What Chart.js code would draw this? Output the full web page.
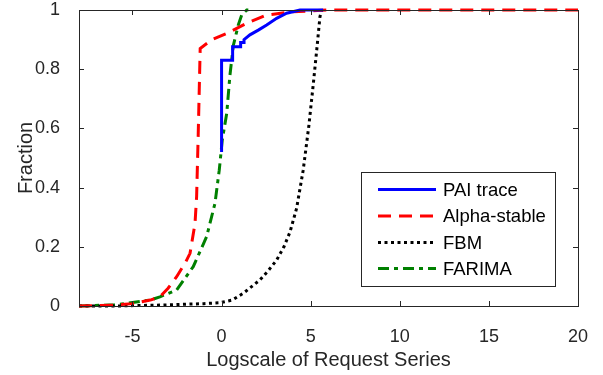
<!DOCTYPE html>
<html lang="en">
<head>
    <meta charset="UTF-8">
    <script src="https://cdn.jsdelivr.net/npm/chart.js"></script>
    <title>CDF</title>
    <style>
        html, body { margin: 0; padding: 0; background: #fff; }
        #box { width: 603px; height: 375px; }
    </style>
</head>
<body>
<div id="box"><canvas id="myChart" width="603" height="375"></canvas></div>

<script>
    // valores
    const paiX = [0, 0, 0.62, 0.62, 1.07, 1.07, 1.26, 1.26, 1.59, 2.06, 2.53, 3.09, 3.65, 4.4, 5.7];
    const paiY = [0.52, 0.83, 0.83, 0.876, 0.876, 0.89, 0.89, 0.90, 0.916, 0.932, 0.949, 0.972, 0.989, 1.0, 1.0];

    const alphaX = [-8, -6, -5, -4, -3.46, -3, -2.52, -2, -1.77, -1.49, -1.4, -1.31, -1.2, -0.56, 0.29, 1.41, 2.53, 4.0, 6.0, 20];
    const alphaY = [0, 0.003, 0.008, 0.02, 0.031, 0.06, 0.099, 0.15, 0.178, 0.279, 0.37, 0.58, 0.87, 0.899, 0.921, 0.955, 0.983, 0.994, 1.0, 1.0];

    const fbmX = [-8, -6, -3.46, -1, -0.09, 0.6, 1.22, 2.15, 2.6, 3.09, 3.5, 3.84, 4.21, 4.58, 4.9, 5.15, 5.34, 5.52, 5.62];
    const fbmY = [0, 0, 0.003, 0.008, 0.011, 0.02, 0.043, 0.088, 0.118, 0.155, 0.2, 0.25, 0.33, 0.459, 0.61, 0.752, 0.865, 0.977, 1.0];

    const farimaX = [-8, -6, -5.33, -4, -3.46, -2.52, -1.59, -0.84, -0.37, -0.13, 0.04, 0.29, 0.47, 0.66, 0.94, 1.13, 1.41, 1.76];
    const farimaY = [0, 0.004, 0.009, 0.02, 0.031, 0.054, 0.133, 0.234, 0.347, 0.459, 0.561, 0.651, 0.78, 0.88, 0.95, 0.983, 1.0, 1.0];

    const xTicks = [-5, 0, 5, 10, 15, 20];
    const yTicks = [0, 0.2, 0.4, 0.6, 0.8, 1];

    const fonte = '"Liberation Sans", Arial, Helvetica, sans-serif';
    const cinza = '#262626';

    function pontos(xs, ys) {
        return xs.map((x, i) => ({ x: x, y: ys[i] }));
    }

    // caixa com ticks para dentro (estilo matlab)
    const caixaPlugin = {
        id: 'caixa',
        afterDatasetsDraw(chart) {
            const ctx = chart.ctx;
            const a = chart.chartArea;
            const sx = chart.scales.x;
            const sy = chart.scales.y;
            ctx.save();
            ctx.strokeStyle = cinza;
            ctx.lineWidth = 1;
            ctx.beginPath();
            xTicks.forEach(v => {
                const px = Math.round(sx.getPixelForValue(v)) + 0.5;
                ctx.moveTo(px, a.bottom); ctx.lineTo(px, a.bottom - 5);
                ctx.moveTo(px, a.top); ctx.lineTo(px, a.top + 5);
            });
            yTicks.forEach(v => {
                const py = Math.round(sy.getPixelForValue(v)) + 0.5;
                ctx.moveTo(a.left, py); ctx.lineTo(a.left + 5, py);
                ctx.moveTo(a.right, py); ctx.lineTo(a.right - 5, py);
            });
            ctx.stroke();
            ctx.strokeRect(Math.round(a.left) + 0.5, Math.round(a.top) + 0.5,
                Math.round(a.right - a.left), Math.round(a.bottom - a.top));
            ctx.restore();
        }
    };

    // legenda dentro do grafico
    const legendaPlugin = {
        id: 'legenda',
        afterDraw(chart) {
            const ctx = chart.ctx;
            const bx = 361, by = 172, bw = 194, bh = 114;
            const linhas = [189.5, 216, 242.5, 268.5];
            ctx.save();
            ctx.fillStyle = '#fff';
            ctx.fillRect(bx, by, bw, bh);
            ctx.strokeStyle = cinza;
            ctx.lineWidth = 1;
            ctx.strokeRect(bx + 0.5, by + 0.5, bw, bh);
            chart.data.datasets.forEach((ds, i) => {
                const y = linhas[i];
                ctx.strokeStyle = ds.borderColor;
                ctx.lineWidth = ds.borderWidth;
                ctx.setLineDash(ds.borderDash || []);
                ctx.beginPath();
                ctx.moveTo(378, y);
                ctx.lineTo(436, y);
                ctx.stroke();
                ctx.setLineDash([]);
                ctx.fillStyle = '#000';
                ctx.font = '18.5px ' + fonte;
                ctx.textBaseline = 'middle';
                ctx.textAlign = 'left';
                ctx.fillText(ds.label, 443, y + 1);
            });
            ctx.restore();
        }
    };

    const dados = {
        datasets: [
            {
                label: 'PAI trace',
                data: pontos(paiX, paiY),
                borderColor: '#0000ff',
                borderWidth: 3,
                borderDash: []
            },
            {
                label: 'Alpha-stable',
                data: pontos(alphaX, alphaY),
                borderColor: '#ff0000',
                borderWidth: 3,
                borderDash: [13, 8]
            },
            {
                label: 'FBM',
                data: pontos(fbmX, fbmY),
                borderColor: '#000000',
                borderWidth: 3,
                borderDash: [3, 3.5]
            },
            {
                label: 'FARIMA',
                data: pontos(farimaX, farimaY),
                borderColor: '#008000',
                borderWidth: 3,
                borderDash: [11, 5, 4, 5]
            }
        ]
    };

    dados.datasets.forEach(ds => {
        ds.showLine = true;
        ds.pointRadius = 0;
        ds.pointHoverRadius = 0;
        ds.tension = 0;
        ds.fill = false;
        ds.clip = 4;
    });

    const config = {
        type: 'scatter',
        data: dados,
        options: {
            responsive: false,
            animation: false,
            layout: { padding: { left: 0, right: 25, top: 10, bottom: 0 } },
            plugins: {
                legend: { display: false },
                tooltip: { enabled: false }
            },
            scales: {
                x: {
                    type: 'linear',
                    min: -8,
                    max: 20,
                    grid: { display: false },
                    border: { display: false },
                    afterBuildTicks: s => { s.ticks = xTicks.map(v => ({ value: v })); },
                    afterFit: s => { s.height = 69; s.paddingLeft = 0; s.paddingRight = 0; },
                    ticks: {
                        color: cinza,
                        padding: 12,
                        maxRotation: 0,
                        autoSkip: false,
                        font: { family: fonte, size: 18 },
                        callback: v => String(v)
                    },
                    title: {
                        display: true,
                        text: 'Logscale of Request Series',
                        color: cinza,
                        font: { family: fonte, size: 20 },
                        padding: { top: 0, bottom: 3 }
                    }
                },
                y: {
                    type: 'linear',
                    min: 0,
                    max: 1,
                    grid: { display: false },
                    border: { display: false },
                    afterBuildTicks: s => { s.ticks = yTicks.map(v => ({ value: v })); },
                    afterFit: s => { s.width = 79; s.paddingTop = 0; s.paddingBottom = 0; },
                    ticks: {
                        color: cinza,
                        padding: 11,
                        autoSkip: false,
                        font: { family: fonte, size: 18 },
                        callback: v => String(Math.round(v * 10) / 10)
                    },
                    title: {
                        display: true,
                        text: 'Fraction',
                        color: cinza,
                        font: { family: fonte, size: 20 },
                        padding: { top: 14, bottom: 0 }
                    }
                }
            }
        },
        plugins: [caixaPlugin, legendaPlugin]
    };

    let myChart = new Chart(document.getElementById('myChart'), config);
</script>
</body>
</html>
